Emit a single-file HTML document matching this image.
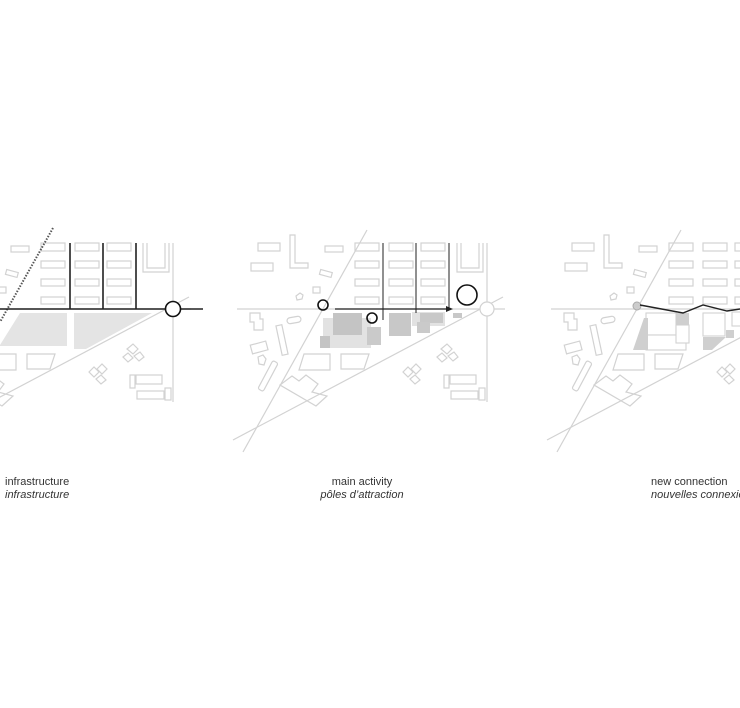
<!DOCTYPE html>
<html><head><meta charset="utf-8"><style>
html,body{margin:0;padding:0;background:#fff;}
svg{display:block;}
text{font-family:"Liberation Sans",sans-serif;font-size:11px;fill:#333;}
</style></head><body>
<svg width="740" height="708" viewBox="0 0 740 708" xmlns="http://www.w3.org/2000/svg">
<defs>
<g id="base" fill="none" stroke="#d2d2d2" stroke-width="1.2">
  <line x1="237" y1="309" x2="505" y2="309"/>
  <line x1="503" y1="297" x2="233" y2="440"/>
  <line x1="487" y1="243" x2="487" y2="402"/>
  <!-- building rows -->
  <rect x="355" y="243" width="24" height="8"/><rect x="389" y="243" width="24" height="8"/><rect x="421" y="243" width="24" height="8"/>
  <rect x="355" y="261" width="24" height="7"/><rect x="389" y="261" width="24" height="7"/><rect x="421" y="261" width="24" height="7"/>
  <rect x="355" y="279" width="24" height="7"/><rect x="389" y="279" width="24" height="7"/><rect x="421" y="279" width="24" height="7"/>
  <rect x="355" y="297" width="24" height="7"/><rect x="389" y="297" width="24" height="7"/><rect x="421" y="297" width="24" height="7"/>
  <path d="M457 243 V272 H483 V243 M461 243 V268 H479 V243"/>
  <!-- left top -->
  <path d="M290 235 H295 V263 H308 V268 H290 Z"/>
  <rect x="258" y="243" width="22" height="8"/>
  <rect x="251" y="263" width="22" height="8"/>
  <rect x="325" y="246" width="18" height="6"/>
  <rect x="320" y="271" width="12" height="5" transform="rotate(15 326 273)"/>
  <rect x="313" y="287" width="7" height="6"/>
  <path d="M296 296 l4 -3 l3 2 l-1 4 l-5 1 z"/>
  <!-- left below -->
  <path d="M250 313 h10 v6 h3 v11 h-9 v-8 h-4 z"/>
  <rect x="287" y="317" width="14" height="6" rx="3" transform="rotate(-10 294 320)"/>
  <rect x="279" y="325" width="6" height="30" transform="rotate(-12 282 340)"/>
  <rect x="251" y="343" width="16" height="9" transform="rotate(-15 259 347)"/>
  <path d="M258 357 l5 -2 l3 4 l-2 6 l-5 -1 z"/>
  <rect x="265" y="360" width="6" height="32" rx="2" transform="rotate(28 268 376)"/>
  <path d="M304 354 H330 V370 H299 Z"/>
  <path d="M341 354 H369 L364 369 H341 Z"/>
  <path d="M280 385 L292 376 L299 381 L306 375 L318 384 L312 392 L327 396 L316 406 Z"/>
  <!-- right below -->
  <path d="M441 349 l6 -5 l5 5 l-5 5 z M448 356 l6 -4 l4 5 l-5 4 z M437 357 l5 -4 l5 5 l-5 4 z"/>
  <path d="M403 372 l5 -5 l5 5 l-5 5 z M411 369 l5 -5 l5 5 l-5 5 z M410 379 l5 -4 l5 5 l-5 4 z"/>
  <rect x="444" y="375" width="5" height="13"/>
  <rect x="450" y="375" width="26" height="9"/>
  <rect x="451" y="391" width="27" height="8"/>
  <rect x="479" y="388" width="6" height="12"/>
</g>
</defs>

<!-- Panel 1 -->
<use href="#base" transform="translate(-314 0)"/>
<polygon points="20,313 67,313 67,346 0,346 0,345" fill="#e4e4e4"/>
<polygon points="74,313 152,313 86,349 74,349" fill="#e4e4e4"/>
<line x1="53" y1="228" x2="0" y2="322" stroke="#555" stroke-width="2" stroke-dasharray="1.5 1.5"/>
<line x1="0" y1="309" x2="203" y2="309" stroke="#222" stroke-width="1.6"/>
<g stroke="#222" stroke-width="1.6"><line x1="70" y1="243" x2="70" y2="309"/><line x1="103" y1="243" x2="103" y2="309"/><line x1="136" y1="243" x2="136" y2="309"/></g>
<circle cx="173" cy="309" r="7.5" fill="#fff" stroke="#111" stroke-width="1.6"/>

<!-- Panel 2 -->
<use href="#base"/>
<line x1="367" y1="230" x2="243" y2="452" stroke="#d2d2d2" stroke-width="1.2"/>
<circle cx="487" cy="309" r="7" fill="#fff" stroke="#d2d2d2" stroke-width="1.2"/>
<g fill="#d0d0d0">
<rect x="333" y="313" width="29" height="22" fill="#c8c8c8"/>
<rect x="323" y="318" width="48" height="30" fill="#e2e2e2"/>
<rect x="333" y="313" width="29" height="22" fill="#c4c4c4"/>
<rect x="320" y="336" width="10" height="12" fill="#c4c4c4"/>
<rect x="367" y="327" width="14" height="18" fill="#cacaca"/>
<rect x="389" y="313" width="22" height="23" fill="#c8c8c8"/>
<rect x="412" y="312" width="33" height="14" fill="#e2e2e2"/>
<rect x="420" y="313" width="23" height="10" fill="#c8c8c8"/>
<rect x="417" y="322" width="13" height="11" fill="#cacaca"/>
<rect x="453" y="313" width="9" height="5" fill="#c8c8c8"/>
</g>
<g stroke="#222" stroke-width="1"><line x1="383" y1="243" x2="383" y2="320"/><line x1="416" y1="243" x2="416" y2="313"/><line x1="449" y1="243" x2="449" y2="309"/></g>
<line x1="335" y1="309" x2="448" y2="309" stroke="#222" stroke-width="1.3"/>
<polygon points="453,309 446,306 446,312" fill="#222"/>
<g fill="none" stroke="#111" stroke-width="1.6">
<circle cx="323" cy="305" r="5"/><circle cx="372" cy="318" r="5"/><circle cx="467" cy="295" r="10"/></g>

<!-- Panel 3 -->
<use href="#base" transform="translate(314 0)"/>
<line x1="681" y1="230" x2="557" y2="452" stroke="#d2d2d2" stroke-width="1.2"/>
<g fill="#fff" stroke="#d2d2d2" stroke-width="1.1">
<rect x="646" y="313" width="30" height="22"/>
<rect x="646" y="335" width="40" height="15"/>
<rect x="676" y="325" width="13" height="18"/>
<rect x="703" y="313" width="22" height="23"/>
<rect x="732" y="312" width="10" height="14"/>
</g>
<g fill="#cfcfcf">
<rect x="676" y="313" width="13" height="12"/>
<polygon points="644,318 648,318 648,350 633,350"/>
<polygon points="703,337 726,337 712,350 703,350"/>
<rect x="726" y="330" width="8" height="8"/>
</g>
<circle cx="637" cy="306" r="4" fill="#ccc" stroke="#aaa"/>
<polyline points="640,305 683,313 703,305 727,311 740,309" fill="none" stroke="#222" stroke-width="1.4"/>

<!-- labels -->
<text x="5" y="485">infrastructure</text>
<text x="5" y="498" font-style="italic">infrastructure</text>
<text x="362" y="485" text-anchor="middle">main activity</text>
<text x="362" y="498" text-anchor="middle" font-style="italic">pôles d’attraction</text>
<text x="651" y="485">new connection</text>
<text x="651" y="498" font-style="italic">nouvelles connexions</text>
</svg>
</body></html>
